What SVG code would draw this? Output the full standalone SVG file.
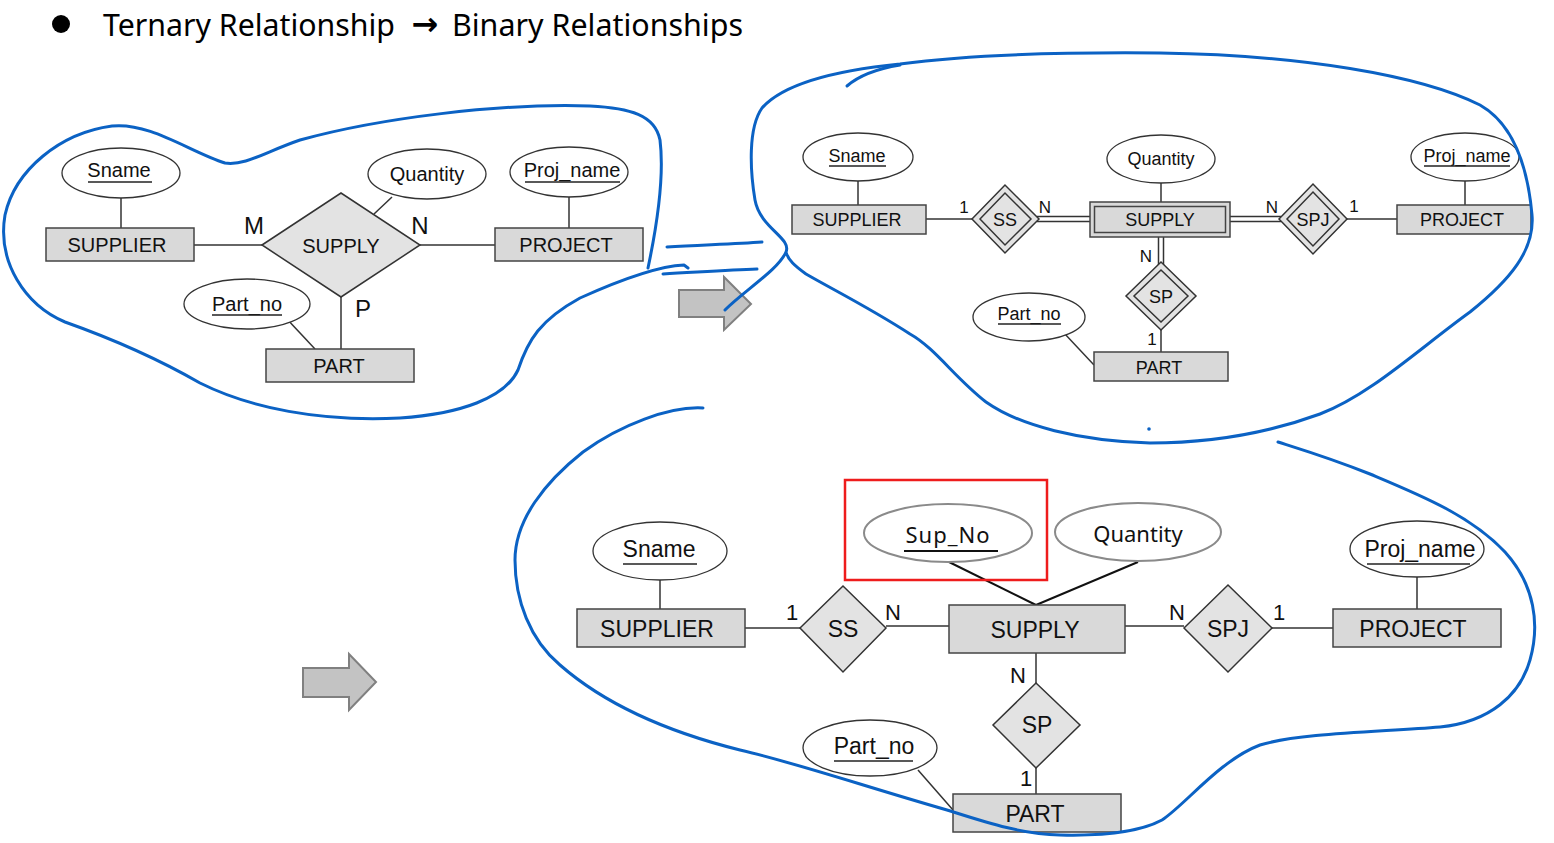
<svg xmlns="http://www.w3.org/2000/svg" width="1554" height="843" viewBox="0 0 1554 843">
<style>
.ent{fill:#d9d9d9;stroke:#444;stroke-width:1.5}
.rel{fill:#e3e3e3;stroke:#333;stroke-width:1.5}
.att{fill:#fff;stroke:#333;stroke-width:1.3}
.att2{fill:#fff;stroke:#8a8a8a;stroke-width:2}
.ln{stroke:#333;stroke-width:1.5;fill:none}
.ul{stroke:#222;stroke-width:1.5}
.blue{fill:none;stroke:#0b62c4;stroke-width:3;stroke-linecap:round;stroke-linejoin:round}
.t{font-family:"Liberation Sans",Arial,sans-serif;text-anchor:middle;fill:#111}
.a{font-size:20px}
.b{font-size:18px}
.c{font-size:23px}
.lbl{font-family:"Liberation Sans",Arial,sans-serif;text-anchor:middle;fill:#111}
.arrow{fill:#c3c3c3;stroke:#808080;stroke-width:2}
.ttl{font-family:'Noto Sans','Open Sans',sans-serif;font-size:30px;fill:#000}
</style>
<rect width="1554" height="843" fill="#fff"/>
<g id="title">
<circle cx="61" cy="24" r="9" fill="#000"/>
<text class="ttl" x="103" y="36" textLength="292" lengthAdjust="spacingAndGlyphs">Ternary Relationship</text>
<text x="425" y="35" font-family="'DejaVu Sans',sans-serif" font-size="32" font-weight="bold" text-anchor="middle" fill="#000">→</text>
<text class="ttl" x="452" y="36" textLength="291" lengthAdjust="spacingAndGlyphs">Binary Relationships</text>
</g>
<g id="connectors">
<line class="ln" x1="121" y1="198" x2="121" y2="228"/>
<line class="ln" x1="194" y1="245" x2="262" y2="245"/>
<line class="ln" x1="392" y1="197" x2="374" y2="214"/>
<line class="ln" x1="420" y1="245" x2="495" y2="245"/>
<line class="ln" x1="569" y1="197" x2="569" y2="228"/>
<line class="ln" x1="341" y1="297" x2="341" y2="349"/>
<line class="ln" x1="286" y1="318" x2="315" y2="349"/>
<line class="ln" x1="858" y1="181" x2="858" y2="205"/>
<line class="ln" x1="926" y1="219" x2="972" y2="219"/>
<line class="ln" x1="1037" y1="216.5" x2="1090" y2="216.5"/>
<line class="ln" x1="1037" y1="221.5" x2="1090" y2="221.5"/>
<line class="ln" x1="1161" y1="183" x2="1161" y2="202"/>
<line class="ln" x1="1230" y1="216.5" x2="1281" y2="216.5"/>
<line class="ln" x1="1230" y1="221.5" x2="1281" y2="221.5"/>
<line class="ln" x1="1347" y1="219" x2="1397" y2="219"/>
<line class="ln" x1="1465" y1="181" x2="1465" y2="205"/>
<line class="ln" x1="1158.5" y1="237" x2="1158.5" y2="265"/>
<line class="ln" x1="1163.5" y1="237" x2="1163.5" y2="265"/>
<line class="ln" x1="1161" y1="330" x2="1161" y2="352"/>
<line class="ln" x1="1064" y1="333" x2="1094" y2="365"/>
<line class="ln" x1="660" y1="580" x2="660" y2="609"/>
<line class="ln" x1="745" y1="628" x2="800" y2="628"/>
<line class="ln" x1="886" y1="626" x2="949" y2="626"/>
<line class="ln" x1="947" y1="561" x2="1036" y2="605" style="stroke:#111;stroke-width:2"/>
<line class="ln" x1="1138" y1="562" x2="1036" y2="605" style="stroke:#111;stroke-width:2"/>
<line class="ln" x1="1125" y1="626" x2="1184" y2="626"/>
<line class="ln" x1="1272" y1="628" x2="1333" y2="628"/>
<line class="ln" x1="1417" y1="577" x2="1417" y2="609"/>
<line class="ln" x1="1036" y1="653" x2="1036" y2="683"/>
<line class="ln" x1="1036" y1="768" x2="1036" y2="794"/>
<line class="ln" x1="918" y1="770" x2="953" y2="810"/>
</g>
<g id="tl-sname"><ellipse class="att" cx="121" cy="173" rx="59" ry="25"/><text class="t a" x="119" y="177">Sname</text><line class="ul" x1="88" y1="182" x2="152" y2="182"/></g>
<g id="tl-supplier"><rect class="ent" x="46" y="228" width="148" height="33"/><text class="t a" x="117" y="252">SUPPLIER</text></g>
<g id="tl-supply"><polygon class="rel" points="262,245 341,193 420,245 341,297"/><text class="t a" x="341" y="253">SUPPLY</text></g>
<g id="tl-quantity"><ellipse class="att" cx="427" cy="174" rx="59" ry="25"/><text class="t a" x="427" y="181">Quantity</text></g>
<g id="tl-project"><rect class="ent" x="495" y="228" width="148" height="33"/><text class="t a" x="566" y="252">PROJECT</text></g>
<g id="tl-projname"><ellipse class="att" cx="569" cy="172" rx="59" ry="25"/><text class="t a" x="572" y="177">Proj_name</text><line class="ul" x1="525" y1="182" x2="620" y2="182"/></g>
<g id="tl-partno"><ellipse class="att" cx="247" cy="304" rx="63" ry="25"/><text class="t a" x="247" y="311">Part_no</text><line class="ul" x1="212" y1="315" x2="282" y2="315"/></g>
<g id="tl-part"><rect class="ent" x="266" y="349" width="148" height="33"/><text class="t a" x="339" y="373">PART</text></g>
<g id="tl-labels">
<text class="lbl" x="254" y="234" font-size="24">M</text>
<text class="lbl" x="420" y="234" font-size="24">N</text>
<text class="lbl" x="363" y="317" font-size="24">P</text>
</g>
<g id="tr-sname"><ellipse class="att" cx="858" cy="157" rx="55" ry="24"/><text class="t b" x="857" y="162">Sname</text><line class="ul" x1="829" y1="166" x2="886" y2="166"/></g>
<g id="tr-supplier"><rect class="ent" x="792" y="205" width="134" height="29"/><text class="t b" x="857" y="226">SUPPLIER</text></g>
<g id="tr-ss"><polygon class="rel" points="972,219 1005,185 1039,219 1005,253"/><polygon class="rel" points="980,219 1005,193 1031,219 1005,245"/><text class="t b" x="1005" y="226">SS</text></g>
<g id="tr-supply"><rect class="ent" x="1090" y="202" width="140" height="35"/><rect class="ent" x="1094.5" y="206.5" width="131" height="26"/><text class="t b" x="1160" y="226">SUPPLY</text></g>
<g id="tr-quantity"><ellipse class="att" cx="1161" cy="159" rx="54" ry="24"/><text class="t b" x="1161" y="165">Quantity</text></g>
<g id="tr-spj"><polygon class="rel" points="1279,219 1313,184 1347,219 1313,254"/><polygon class="rel" points="1287,219 1313,192 1339,219 1313,246"/><text class="t b" x="1313" y="226">SPJ</text></g>
<g id="tr-project"><rect class="ent" x="1397" y="205" width="134" height="29"/><text class="t b" x="1462" y="226">PROJECT</text></g>
<g id="tr-projname"><ellipse class="att" cx="1465" cy="157" rx="54" ry="24"/><text class="t b" x="1467" y="162">Proj_name</text><line class="ul" x1="1424" y1="166" x2="1510" y2="166"/></g>
<g id="tr-sp"><polygon class="rel" points="1161,262 1196,296 1161,330 1126,296"/><polygon class="rel" points="1161,270 1188,296 1161,322 1134,296"/><text class="t b" x="1161" y="303">SP</text></g>
<g id="tr-partno"><ellipse class="att" cx="1029" cy="317" rx="56" ry="24"/><text class="t b" x="1029" y="320">Part_no</text><line class="ul" x1="998" y1="324" x2="1061" y2="324"/></g>
<g id="tr-part"><rect class="ent" x="1094" y="352" width="134" height="29"/><text class="t b" x="1159" y="374">PART</text></g>
<g id="tr-labels" font-size="17">
<text class="lbl" x="964" y="213">1</text>
<text class="lbl" x="1045" y="213">N</text>
<text class="lbl" x="1272" y="213">N</text>
<text class="lbl" x="1354" y="212">1</text>
<text class="lbl" x="1146" y="262">N</text>
<text class="lbl" x="1152" y="345">1</text>
</g>
<g id="b-highlight"><rect x="845" y="480" width="202" height="100" fill="none" stroke="#ee1c1c" stroke-width="2.5"/></g>
<g id="b-supno"><ellipse class="att2" cx="948" cy="533" rx="84" ry="29"/><text x="948" y="543" font-family="'Noto Sans','Liberation Sans',sans-serif" font-size="22" text-anchor="middle" fill="#111" letter-spacing="1">Sup_No</text><line x1="904" y1="551" x2="998" y2="551" stroke="#111" stroke-width="2"/></g>
<g id="b-quantity"><ellipse class="att2" cx="1138" cy="532" rx="83" ry="29"/><text x="1138" y="542" font-family="'Noto Sans','Liberation Sans',sans-serif" font-size="22" text-anchor="middle" fill="#111">Quantity</text></g>
<g id="b-sname"><ellipse class="att" cx="660" cy="551" rx="67" ry="29"/><text class="t c" x="659" y="557">Sname</text><line class="ul" x1="623" y1="564" x2="697" y2="564"/></g>
<g id="b-supplier"><rect class="ent" x="577" y="609" width="168" height="38"/><text class="t c" x="657" y="637">SUPPLIER</text></g>
<g id="b-ss"><polygon class="rel" points="800,628 843,586 886,628 843,672"/><text class="t c" x="843" y="637">SS</text></g>
<g id="b-supply"><rect class="ent" x="949" y="605" width="176" height="48"/><text class="t c" x="1035" y="638">SUPPLY</text></g>
<g id="b-spj"><polygon class="rel" points="1184,628 1228,585 1272,628 1228,672"/><text class="t c" x="1228" y="637">SPJ</text></g>
<g id="b-project"><rect class="ent" x="1333" y="609" width="168" height="38"/><text class="t c" x="1413" y="637">PROJECT</text></g>
<g id="b-projname"><ellipse class="att" cx="1417" cy="549" rx="67" ry="28"/><text class="t c" x="1420" y="557">Proj_name</text><line class="ul" x1="1367" y1="564" x2="1470" y2="564"/></g>
<g id="b-sp"><polygon class="rel" points="1036,683 1080,725 1036,768 993,725"/><text class="t c" x="1037" y="733">SP</text></g>
<g id="b-partno"><ellipse class="att" cx="870" cy="748" rx="67" ry="28"/><text class="t c" x="874" y="754">Part_no</text><line class="ul" x1="834" y1="761" x2="913" y2="761"/></g>
<g id="b-part"><rect class="ent" x="953" y="794" width="168" height="38"/><text class="t c" x="1035" y="822">PART</text></g>
<g id="b-labels" font-size="22">
<text class="lbl" x="792" y="620">1</text>
<text class="lbl" x="893" y="620">N</text>
<text class="lbl" x="1177" y="620">N</text>
<text class="lbl" x="1279" y="620">1</text>
<text class="lbl" x="1018" y="683">N</text>
<text class="lbl" x="1026" y="786">1</text>
</g>
<g id="arrow1"><polygon class="arrow" points="679,290 724,290 724,277 751,304 724,330 724,317 679,317"/></g>
<g id="arrow2"><polygon class="arrow" points="303,668 349,668 349,654 376,682 349,710 349,697 303,697"/></g>
<g id="annotations">
<path class="blue" d="M 648,268 C 656,230 665,180 660,140 C 655,115 630,108 590,106 C 500,103 380,118 300,140 C 265,152 245,166 225,163 C 190,152 150,122 112,126 C 60,133 15,170 5,215 C -3,262 25,305 65,322 C 110,338 160,360 200,383 C 250,408 320,422 400,418 C 460,414 505,398 518,370 C 528,340 540,320 580,298 C 620,280 660,266 684,265 L 688,268"/>
<path class="blue" d="M 667,247 C 700,245 735,244 762,242"/>
<path class="blue" d="M 663,274 C 700,272 730,270 757,269"/>
<path class="blue" d="M 725,310 C 745,290 778,270 786,252 C 792,238 760,228 755,200 C 750,170 748,128 762,108 C 785,82 840,70 900,64 C 960,56 1050,52 1160,53 C 1300,55 1420,75 1480,105 C 1515,125 1528,170 1532,215 C 1535,250 1510,280 1470,312 C 1420,348 1370,395 1320,414 C 1260,436 1200,443 1150,443 C 1080,441 1020,426 986,402 C 955,378 935,348 910,334 C 870,308 830,288 806,274 C 795,266 788,260 786,252"/>
<path class="blue" d="M 847,86 C 855,79 870,70 900,65"/>
<circle cx="1149" cy="429" r="1.8" fill="#0b62c4"/>
<path class="blue" d="M 703,408 C 670,406 620,425 583,452 C 545,482 515,520 515,560 C 515,600 530,640 560,665 C 600,700 660,730 740,750 C 800,764 860,785 947,810 C 985,822 1020,834 1060,835 C 1100,836 1140,832 1162,820 C 1185,805 1220,760 1260,745 C 1300,733 1380,732 1440,727 C 1490,722 1520,695 1530,660 C 1540,625 1535,585 1505,552 C 1470,515 1420,495 1370,474 C 1330,458 1300,449 1278,442"/>
</g>
</svg>
